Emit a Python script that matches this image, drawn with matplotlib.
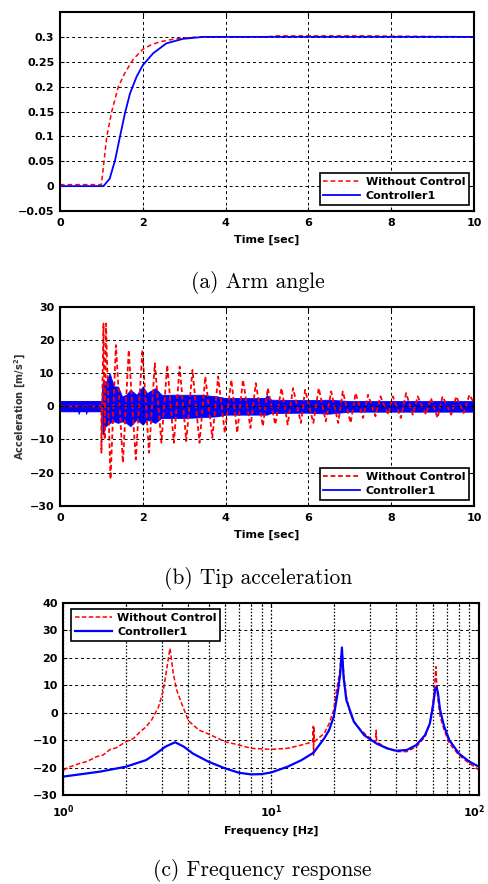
import matplotlib
matplotlib.use('Agg')
import matplotlib.pyplot as plt
from matplotlib.transforms import ScaledTranslation

# ---------------- (a) Arm angle ----------------
t_red_a = [0, 1.0, 1.05, 1.13, 1.25, 1.41, 1.57, 1.77, 2.0, 2.2, 2.41, 2.65, 2.9, 3.2, 3.5, 5.0, 5.2, 7.4, 10]
y_red_a = [0.003, 0.003, 0.04, 0.1, 0.15, 0.2, 0.228, 0.255, 0.275, 0.284, 0.29, 0.294, 0.297, 0.299, 0.3, 0.3, 0.302, 0.302, 0.3]
t_blue_a = [0, 1.05, 1.2, 1.33, 1.45, 1.57, 1.69, 1.85, 2.0, 2.25, 2.57, 2.97, 3.46, 10]
y_blue_a = [0, 0, 0.015, 0.052, 0.1, 0.147, 0.186, 0.22, 0.243, 0.267, 0.287, 0.296, 0.3, 0.3]

# ---------------- (b) Tip acceleration ----------------
# uncontrolled: successive peaks / troughs of the oscillation
t_red_b = [0.0, 1.0, 1.0, 1.05, 1.08, 1.11, 1.22, 1.35, 1.52, 1.66, 1.83, 1.99, 2.15, 2.29, 2.45, 2.59,
           2.75, 2.89, 3.05, 3.2, 3.37, 3.51, 3.68, 3.82, 3.98, 4.14, 4.28, 4.42, 4.6, 4.73,
           4.9, 5.02, 5.2, 5.35, 5.5, 5.63, 5.82, 5.92, 6.12, 6.25, 6.42, 6.55, 6.72, 6.83,
           7.02, 7.14, 7.32, 7.44, 7.62, 7.74, 7.93, 8.04, 8.23, 8.36, 8.52, 8.64, 8.84, 8.96,
           9.12, 9.24, 9.45, 9.57, 9.75, 9.89, 10.0]
y_red_b = [0.0, 0.0, -14, 25, -10, 25, -22, 18.5, -17, 17, -16, 17, -14, 13, -11, 12.5,
           -11, 12, -10.5, 11, -11, 9, -9.5, 9, -8, 8, -8, 8, -6.5, 7,
           -6, 5.5, -5.5, 5.5, -5.5, 5.5, -5, 5, -5, 5.5, -4.5, 4.5, -5, 4.5,
           -5, 4, -3.5, 3.5, -3, 3, -2.5, 3, -3.5, 4, -2.5, 3, -2.5, 2.5,
           -3.5, 3, -2.5, 3, -2, 3.5, 1.0]
t_red_band = [0.0, 1.0]
red_band_hi = [1.6, 1.6]
red_band_lo = [-1.6, -1.6]
# controlled: envelope of the dense oscillation band
t_blue_b = [0.0, 0.44, 0.45, 0.47, 0.62, 0.63, 0.65, 1.0, 1.03, 1.1, 1.2, 1.3, 1.4, 1.5, 1.6, 1.7,
            1.85, 2.0, 2.1, 2.3, 2.45, 3.0, 3.4, 3.8, 4.0, 4.5, 4.95, 5.0, 5.1, 6.0, 6.5, 7.0, 8.0, 9.0, 10.0]
blue_hi = [1.6, 1.6, 1.6, 1.6, 1.6, 1.6, 1.6, 1.6, 7.5, 7.0, 10.0, 6.0, 6.0, 3.0, 3.5, 5.0,
           3.5, 6.0, 4.0, 5.5, 3.5, 3.5, 3.5, 3.0, 2.5, 2.5, 2.5, 3.4, 2.0, 1.9, 2.0, 1.6, 1.6, 1.6, 1.6]
blue_lo = [-1.5, -1.5, -2.3, -1.5, -1.5, -2.3, -1.5, -1.5, -8.5, -6.0, -5.0, -4.5, -5.0, -4.5, -5.0, -6.0,
           -4.0, -5.5, -4.0, -5.0, -3.5, -3.5, -3.3, -3.0, -2.5, -2.5, -2.5, -2.5, -2.0, -1.9, -2.2, -1.6, -1.6, -1.6, -1.6]

# ---------------- (c) Frequency response ----------------
f_red = [1.0, 1.05, 1.1, 1.2, 1.3, 1.45, 1.55, 1.68, 1.8, 2.0, 2.17, 2.34, 2.5, 2.66, 2.87, 3.03, 3.14, 3.26,
         3.38, 3.51, 3.71, 4.0, 4.5, 5.0, 6.0, 7.0, 8.0, 10.0, 12.0, 14.0, 15.9, 15.95, 16.0, 16.05, 16.1,
         18.0, 19.0, 20.0, 20.5, 21.3, 21.9, 22.4, 23.0, 24.0, 25.0, 27.0, 30.0, 31.8, 32.0, 32.2,
         35.0, 40.0, 45.0, 50.0, 55.0, 58.0, 60.0, 61.0, 62.0, 62.7, 63.5, 65.0, 68.0, 72.0, 80.0,
         90.0, 100.0]
db_red = [-21, -20, -19.5, -18.5, -17.8, -16, -15.5, -13.4, -12.8, -10.6, -9.5, -7, -5.2, -2.7, 2, 8.2, 15.5, 23.4,
          14.3, 8.2, 3.3, -3, -6.4, -7.8, -10.6, -11.8, -13, -13.4, -13, -11.8, -10.6, -5, -15.5, -5, -10.6,
          -7.6, -4, 1, 7, 14, 22.8, 13, 5.8, -0.3, -3.3, -6.4, -9.4, -10.6, -6.4, -10.6,
          -12.4, -14.2, -14.2, -12.4, -8.8, -4, 3.3, 8.2, 16.7, 9.4, 4.6, -1.5, -6.4, -11.2, -15.5,
          -18.5, -20.9]
f_blue = [1.0, 1.5, 2.0, 2.5, 2.8, 3.1, 3.45, 3.8, 4.2, 5.0, 6.0, 7.0, 8.0, 9.0, 10.0, 12.0, 14.0, 16.0,
          18.0, 19.0, 20.0, 21.0, 21.5, 21.9, 22.3, 23.0, 25.0, 28.0, 32.0, 36.0, 40.0, 45.0, 50.0,
          55.0, 58.0, 60.0, 61.5, 62.5, 63.5, 65.0, 68.0, 72.0, 80.0, 90.0, 100.0]
db_blue = [-23.3, -21.5, -19.7, -17.3, -14.9, -12.4, -10.8, -12.4, -14.9, -17.9, -20.3, -21.9, -22.5, -22.4,
           -21.8, -19.7, -17.3, -14.6, -9.4, -6.4, -1.5, 8.2, 14.3, 23.7, 13, 4.6, -3.3, -8.2, -11.2, -13,
           -13.9, -13.6, -11.8, -8.2, -4, 2.1, 8.2, 9.4, 7, 0.9, -5.1, -10, -14.9, -17.9, -19.7]

labels = ['Without Control', 'Controller1']
captions = ['(a) Arm angle', '(b) Tip acceleration', '(c) Frequency response']

RED = '#ff0000'
BLUE = '#0000ff'
FS = 8

fig = plt.figure(figsize=(4.88, 8.84), dpi=100)
W, H = 488.0, 884.0


def ax_at(x0, y0, x1, y1):
    return fig.add_axes([x0 / W, 1 - y1 / H, (x1 - x0) / W, (y1 - y0) / H])


def style(ax, xpad=5):
    for s in ax.spines.values():
        s.set_linewidth(1.5)
        s.set_color('black')
    ax.tick_params(direction='in', length=3, width=0.8, top=True, right=True,
                   labelsize=FS, pad=4)
    ax.tick_params(axis='x', pad=xpad)
    for lab in ax.get_xticklabels() + ax.get_yticklabels():
        lab.set_fontweight('bold')


def legend(ax, handles, loc, anchor):
    lg = ax.legend(handles=handles, labels=labels, loc=loc, bbox_to_anchor=anchor,
                   borderaxespad=0, fancybox=False, framealpha=1, edgecolor='black',
                   prop={'weight': 'bold', 'size': FS}, handlelength=3.3,
                   handletextpad=0.5, labelspacing=0.35, borderpad=0.35)
    lg.get_frame().set_linewidth(1.2)
    return lg


grid_kw = dict(color='black', linewidth=0.7, linestyle=(0, (3, 3)))

# ---- (a)
ax1 = ax_at(60, 12, 474, 211)
l1, = ax1.plot(t_red_a, y_red_a, color=RED, lw=1.1, dashes=(3, 2))
l2, = ax1.plot(t_blue_a, y_blue_a, color=BLUE, lw=1.3)
ax1.set_xlim(0, 10)
ax1.set_ylim(-0.05, 0.35)
ax1.set_xticks([0, 2, 4, 6, 8, 10])
ax1.set_yticks([-0.05, 0, 0.05, 0.1, 0.15, 0.2, 0.25, 0.3])
ax1.set_yticklabels(['\u22120.05', '0', '0.05', '0.1', '0.15', '0.2', '0.25', '0.3'])
ax1.grid(True, **grid_kw)
ax1.set_axisbelow(True)
ax1.set_xlabel('Time [sec]', fontsize=FS, fontweight='bold', labelpad=5)
style(ax1)
legend(ax1, [l1, l2], 'lower right', (0.988, 0.03))

# ---- (b)
ax2 = ax_at(60, 307, 474, 505.7)
r2, = ax2.plot(t_red_b, y_red_b, color=RED, lw=1.3, dashes=(2.6, 1.6))
ax2.fill_between(t_red_band, red_band_lo, red_band_hi, color=RED, lw=0)
ax2.fill_between(t_blue_b, blue_lo, blue_hi, color=BLUE, lw=0.6, edgecolor=BLUE)
b2, = ax2.plot([], [], color=BLUE, lw=1.3)
ax2.set_xlim(0, 10)
ax2.set_ylim(-30, 30)
ax2.set_xticks([0, 2, 4, 6, 8, 10])
ax2.set_yticks([-30, -20, -10, 0, 10, 20, 30])
ax2.set_yticklabels(['\u221230', '\u221220', '\u221210', '0', '10', '20', '30'])
ax2.grid(True, **grid_kw)
ax2.set_axisbelow(False)
ax2.set_xlabel('Time [sec]', fontsize=FS, fontweight='bold', labelpad=5)
ax2.set_ylabel('Acceleration [m/s$^\\mathbf{2}$]', fontsize=7, fontweight='bold',
               labelpad=1, color='#333333')
style(ax2)
legend(ax2, [r2, b2], 'lower right', (0.988, 0.03))

# ---- (c)
ax3 = ax_at(63.3, 602.7, 479, 795)
r3, = ax3.semilogx(f_red, db_red, color=RED, lw=1.1, dashes=(3, 1.5))
b3, = ax3.semilogx(f_blue, db_blue, color=BLUE, lw=1.6)
ax3.set_xlim(1, 100)
ax3.set_ylim(-30, 40)
ax3.set_xticks([1, 10, 100])
ax3.set_xticklabels([r'$\mathbf{10^{0}}$', r'$\mathbf{10^{1}}$', r'$\mathbf{10^{2}}$'])
ax3.set_xticks([2, 3, 4, 5, 6, 7, 8, 9, 20, 30, 40, 50, 60, 70, 80, 90], minor=True)
ax3.xaxis.set_minor_formatter(plt.NullFormatter())
ax3.set_yticks([-30, -20, -10, 0, 10, 20, 30, 40])
ax3.set_yticklabels(['\u221230', '\u221220', '\u221210', '0', '10', '20', '30', '40'])
ax3.grid(True, which='major', axis='y', **grid_kw)
ax3.grid(True, which='major', axis='x', color='black', linewidth=0.9, linestyle=(0, (1.5, 1.5)))
ax3.grid(True, which='minor', axis='x', color='black', linewidth=0.9, linestyle=(0, (1.2, 1.5)))
ax3.set_axisbelow(True)
ax3.set_xlabel('Frequency [Hz]', fontsize=FS, fontweight='bold', labelpad=4)
style(ax3, xpad=6)
ax3.tick_params(which='minor', direction='in', length=2, top=True)
last = ax3.get_xticklabels()[-1]
last.set_horizontalalignment('right')
last.set_transform(last.get_transform() + ScaledTranslation(6 / 100, 0, fig.dpi_scale_trans))
legend(ax3, [r3, b3], 'upper left', (0.0185, 0.967))

# ---- captions
for (cx, cy), txt in zip([(258, 283), (258, 579), (262, 871)], captions):
    fig.text(cx / W, 1 - cy / H, txt, ha='center', va='center', fontsize=15.5,
             family='cmr10')

fig.savefig('out.png', dpi=100)
